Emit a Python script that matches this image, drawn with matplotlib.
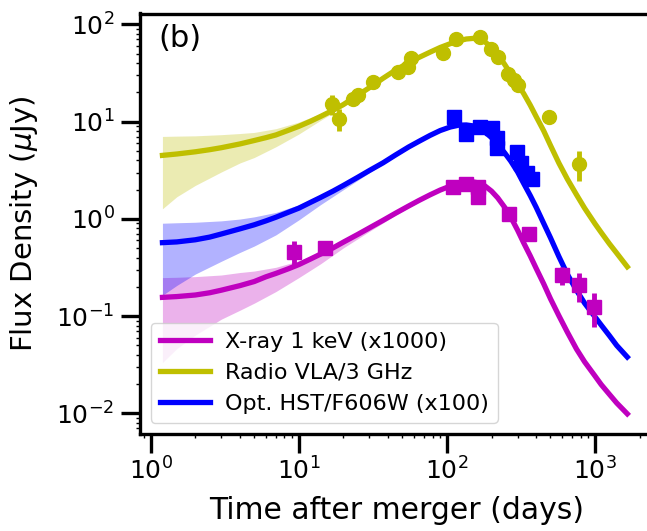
import numpy as np
import matplotlib
matplotlib.use("Agg")
from matplotlib import pyplot as plt

# model curves (days)
t_mod = [1.2, 1.5, 2, 2.5, 3, 4, 5, 6, 7, 8.5, 10, 12, 14, 17, 20, 25, 30, 37, 45, 55, 65, 77,
         90, 105, 120, 135, 150, 165, 180, 200, 220, 245, 270, 300, 330, 365, 400, 450, 500,
         570, 650, 750, 850, 1000, 1100, 1250, 1400, 1650]
radio_mod = [4.5, 4.65, 4.9, 5.15, 5.4, 5.9, 6.4, 6.85, 7.3, 8.15, 8.95, 10.1, 11.3, 13.1, 15.0,
             18.7, 22.4, 27.9, 33.9, 40.4, 45.9, 51.9, 57.9, 63.3, 67.8, 70.8, 71.8, 70.3, 66.3,
             58.4, 49.4, 38.9, 30.9, 24.4, 19.4, 14.8, 11.3, 8.05, 5.7, 3.75, 2.57, 1.77, 1.29,
             0.89, 0.725, 0.555, 0.445, 0.322]
opt_mod = [0.57, 0.58, 0.61, 0.65, 0.70, 0.79, 0.87, 0.955, 1.04, 1.17, 1.29, 1.48, 1.66, 1.93,
           2.21, 2.68, 3.15, 3.77, 4.55, 5.48, 6.3, 7.23, 8.1, 8.8, 9.2, 9.25, 9.05, 8.6, 7.87,
           6.85, 5.82, 4.79, 3.92, 3.04, 2.31, 1.74, 1.32, 0.90, 0.64, 0.41, 0.27, 0.184, 0.136,
           0.098, 0.081, 0.063, 0.05, 0.038]
xray_mod = [0.156, 0.159, 0.165, 0.174, 0.185, 0.206, 0.227, 0.254, 0.275, 0.307, 0.339, 0.387,
            0.434, 0.503, 0.577, 0.693, 0.809, 0.966, 1.145, 1.355, 1.553, 1.77, 1.98, 2.17,
            2.31, 2.39, 2.40, 2.34, 2.19, 1.93, 1.65, 1.32, 1.04, 0.765, 0.565, 0.417, 0.311,
            0.215, 0.151, 0.101, 0.0685, 0.0458, 0.0339, 0.0242, 0.0198, 0.0157, 0.0128, 0.0099]

# uncertainty bands
t_band = [1.2, 1.5, 2, 3, 4, 5, 7, 10, 14, 20, 30, 45, 65, 90, 120, 150, 180, 220, 270, 330,
          400, 500, 650, 850, 1100, 1400, 1650]
radio_lo = [1.27, 1.69, 2.21, 3.04, 3.76, 4.28, 5.52, 7.46, 10.3, 14.3, 21.6, 32.9, 44.4, 56.4,
            66.3, 70.3, 64.8, 47.9, 29.9, 18.8, 10.9, 5.5, 2.36, 1.17, 0.677, 0.418, 0.30]
radio_hi = [7.05, 7.1, 7.15, 7.35, 7.55, 7.75, 8.47, 9.9, 12.1, 15.6, 23.2, 34.9, 47.4, 59.4,
            69.3, 73.3, 67.8, 50.9, 31.9, 20.0, 11.7, 5.91, 2.57, 1.3, 0.757, 0.472, 0.344]
opt_lo = [0.164, 0.207, 0.271, 0.367, 0.452, 0.526, 0.685, 0.977, 1.4, 2.0, 2.99, 4.39, 6.14,
          7.9, 9.0, 8.85, 7.66, 5.67, 3.82, 2.24, 1.27, 0.613, 0.259, 0.129, 0.0758, 0.0466,
          0.0352]
opt_hi = [0.903, 0.913, 0.924, 0.955, 0.997, 1.05, 1.166, 1.397, 1.75, 2.31, 3.25, 4.7, 6.5,
          8.3, 9.4, 9.25, 8.07, 5.98, 4.03, 2.38, 1.37, 0.666, 0.283, 0.144, 0.0867, 0.0532,
          0.0407]
xray_lo = [0.0333, 0.0464, 0.0639, 0.0932, 0.115, 0.136, 0.179, 0.249, 0.345, 0.504, 0.746,
           1.093, 1.5, 1.93, 2.26, 2.35, 2.14, 1.61, 1.01, 0.549, 0.302, 0.146, 0.0659, 0.0323,
           0.0187, 0.0121, 0.0092]
xray_hi = [0.249, 0.251, 0.255, 0.265, 0.281, 0.291, 0.318, 0.371, 0.455, 0.598, 0.83, 1.166,
           1.585, 2.02, 2.36, 2.44, 2.23, 1.69, 1.072, 0.586, 0.323, 0.158, 0.0718, 0.0356,
           0.0209, 0.0136, 0.0106]

# observations
radio_t = [16.7, 18.8, 23.3, 25.2, 31.8, 46.8, 54.6, 57.5, 93.9, 115, 166, 199, 220, 257, 285, 300, 490, 780]
radio_f = [15.3, 10.7, 17.2, 18.6, 25.6, 32.3, 36.4, 45.5, 50.5, 71.3, 74.1, 56.4, 46.1, 31.1, 26.6, 23.7, 11.1, 3.69]
radio_e = [3.7, 2.7, 1.5, 1.5, 1.5, 2, 2.5, 3, 3, 4, 4, 3, 3, 2, 2, 2, 1.5, 1.25]

opt_t = [112, 135.5, 166, 200, 219, 219, 298, 317, 348, 377]
opt_f = [11.1, 7.55, 8.73, 8.52, 6.73, 5.3, 4.82, 3.8, 3.0, 2.6]
opt_e = [0.5, 0.9, 0.5, 0.5, 0.9, 0.6, 0.7, 0.5, 0.4, 0.3]

xray_t = [9.3, 15, 110, 135, 161, 161, 264, 359, 600, 780, 988]
xray_f = [0.457, 0.507, 2.12, 2.3, 2.12, 1.68, 1.136, 0.703, 0.264, 0.209, 0.124]
xray_e = [0.13, 0.04, 0.15, 0.15, 0.15, 0.15, 0.08, 0.05, 0.055, 0.07, 0.047]

fig = plt.figure(figsize=(6.47, 5.31), dpi=100)
ax = fig.add_axes([139.5 / 647, 1 - 434 / 531, 514.5 / 647, 420.5 / 531])

for lo, hi, c in [(xray_lo, xray_hi, 'm'), (radio_lo, radio_hi, 'y'), (opt_lo, opt_hi, 'b')]:
    ax.fill_between(t_band, lo, hi, color=c, alpha=0.3, lw=0)

ax.plot(t_mod, xray_mod, color='m', lw=3.8, label='X-ray 1 keV (x1000)')
ax.plot(t_mod, radio_mod, color='y', lw=3.8, label='Radio VLA/3 GHz')
ax.plot(t_mod, opt_mod, color='b', lw=3.8, label='Opt. HST/F606W (x100)')

ax.errorbar(radio_t, radio_f, yerr=radio_e, fmt='o', color='y', ms=10, elinewidth=3.5, capsize=0)
ax.errorbar(opt_t, opt_f, yerr=opt_e, fmt='s', color='b', ms=9.5, elinewidth=3.5, capsize=0)
ax.errorbar(xray_t, xray_f, yerr=xray_e, fmt='s', color='m', ms=9.5, elinewidth=3.5, capsize=0)

ax.set_xscale('log')
ax.set_yscale('log')
ax.set_xlim(0.84, 2500)
ax.set_ylim(0.00614, 129.5)

for s in ax.spines.values():
    s.set_linewidth(2.4)
ax.tick_params(which='major', direction='out', length=14, width=2.4, labelsize=18)
ax.tick_params(which='minor', direction='out', length=3, width=1)
ax.tick_params(axis='x', which='major', pad=3)
ax.tick_params(axis='y', which='major', pad=4)

ax.set_xlabel('Time after merger (days)', fontsize=21.5, labelpad=8)
ax.set_ylabel(r'Flux Density ($\mu$Jy)', fontsize=21, labelpad=12)
ax.text(0.037, 0.975, '(b)', transform=ax.transAxes, fontsize=22, va='top')

ax.legend(loc='lower left', fontsize=16, handlelength=2.25, handletextpad=0.7)

plt.savefig('out.png', dpi=100)
